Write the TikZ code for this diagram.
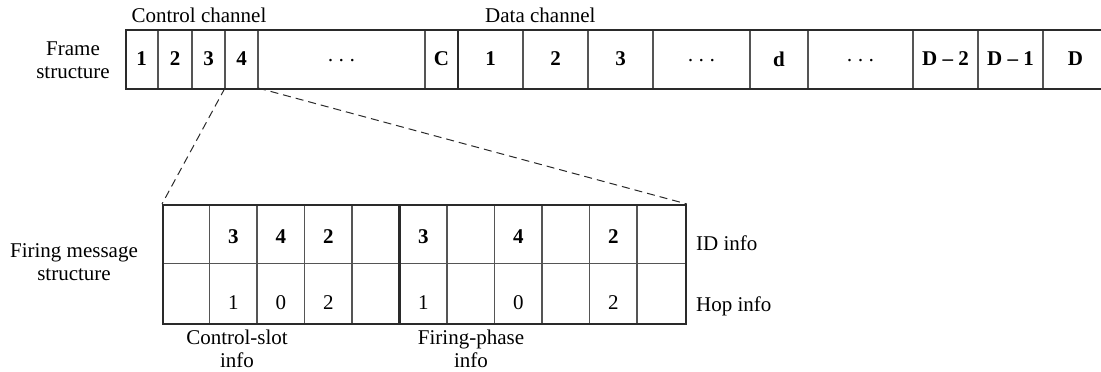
\documentclass[tikz,border=0pt]{standalone}
\usepackage{fontspec}
\setmainfont{Liberation Serif}
\definecolor{bordergray}{HTML}{2A2A2A}
\definecolor{divgray}{HTML}{555555}
\newcommand{\mydots}{\smash{\raisebox{-8pt}{\mdseries·\hspace{4pt}·\hspace{4pt}·}}}
\begin{document}
\begin{tikzpicture}[x=1pt,y=-1pt,
  font=\fontsize{21}{24}\selectfont,
  thinline/.style={line width=1.1pt, draw=divgray},
  thickline/.style={line width=2.4pt, draw=bordergray},
  boxstyle/.style={thickline, rectangle, inner sep=0pt, anchor=north west},
  conn/.style={dash pattern=on 8pt off 5pt, line width=1pt, draw=bordergray},
  lbl/.style={inner sep=0pt, align=center},
  num/.style={inner sep=0pt, font=\fontsize{21}{24}\selectfont\bfseries},
  plain/.style={inner sep=0pt}]
\path[use as bounding box] (0,0) rectangle (1101,372);

% ---- frame structure ----
\node[lbl] (ctrl) at (199,15) {Control channel};
\node[lbl, anchor=west] (data) at (485,15) {Data channel};
\node[lbl] (framelbl) at (73,60) {Frame\\[-1pt]structure};

\foreach \a/\b/\t [count=\i] in {125/158/1, 158/192/2, 192/225/3, 225/258/4,
   258/425/{\mydots}, 425/458/C, 458/523/1, 523/588/2, 588/653/3,
   653/750/{\mydots}, 750/808/d, 808/913/{\mydots}, 913/978/{D -- 2},
   978/1043/{D -- 1}, 1043/1108/D} {
  \draw[thinline] (\b,29) -- (\b,88);
  \node[num] (f\i) at ({(\a+\b)/2},59) {\t};
}
\draw[thickline] (458,29) -- (458,88);
\node[boxstyle, draw, minimum width=983pt, minimum height=59pt] (frame) at (125,29) {};
\coordinate (f34) at (225,88);
\coordinate (f4e) at (258,88);

% ---- firing message structure ----
\node[lbl] (firelbl) at (74,262) {Firing message\\[-1pt]structure};

\foreach \x in {209.5,257,304.5,352,447,494.5,542,589.5,637} {
  \draw[thinline] (\x,204) -- (\x,323);
}
\draw[thinline] (162,263.5) -- (684.5,263.5);
\draw[thickline] (399.5,204) -- (399.5,323);
\node[boxstyle, draw, minimum width=522.5pt, minimum height=119pt] (msg) at (162,204) {};

\foreach \k/\t/\h [count=\i] in {2/3/1, 3/4/0, 4/2/2, 6/3/1, 8/4/0, 10/2/2} {
  \node[num] (id\i) at ({162+(\k-0.5)*47.5},237) {\t};
  \node[plain] (hop\i) at ({162+(\k-0.5)*47.5},303) {\h};
}

\node[lbl, anchor=west] (idinfo) at (696,243) {ID info};
\node[lbl, anchor=west] (hopinfo) at (696,306) {Hop info};
\node[lbl] (csinfo) at (237,349) {Control-slot\\[-1pt]info};
\node[lbl] (fpinfo) at (471,349) {Firing-phase\\[-1pt]info};

% ---- zoom connectors ----
\draw[conn] (f34) -- (msg.north west);
\draw[conn] (f4e) -- (msg.north east);
\end{tikzpicture}
\end{document}
